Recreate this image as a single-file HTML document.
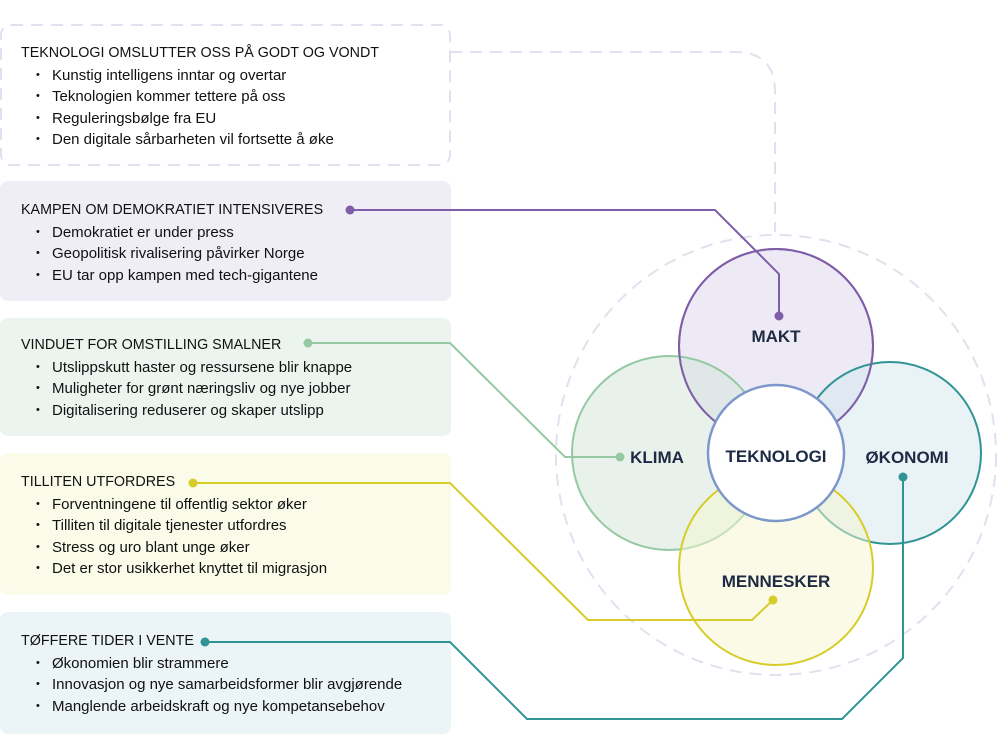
<!DOCTYPE html>
<html><head><meta charset="utf-8"><style>
body{margin:0;width:1000px;height:750px;background:#fff;position:relative;overflow:hidden;font-family:"Liberation Sans",sans-serif;color:#111;}
.box{position:absolute;left:0;width:451px;border-radius:10px;box-sizing:border-box;padding-left:21px;font-size:15px;line-height:21.5px}
.box h{display:block;font-size:14.3px;margin-bottom:0}
.box ul{margin:0;padding-left:31px}
.box li{list-style:none;position:relative}
.box li:before{content:"•";position:absolute;left:-16px;font-size:11px}
svg{position:absolute;left:0;top:0}
</style></head><body>
<svg width="1000" height="750">
<path d="M450 52 H735 Q775 52 775 92 V232" fill="none" stroke="#dfe2ee" stroke-width="2" stroke-dasharray="12 8"/>
<circle cx="776" cy="455" r="220" fill="none" stroke="#dfe2ee" stroke-width="2" stroke-dasharray="12 8"/>
<rect x="1" y="25" width="449" height="140" rx="10" fill="#fff" stroke="#dfe2ee" stroke-width="2" stroke-dasharray="12 8"/>
<rect x="0" y="181" width="451" height="120" rx="8" fill="#efedf6"/>
<rect x="0" y="318" width="451" height="118" rx="8" fill="#ebf4ee"/>
<rect x="0" y="453" width="451" height="142" rx="8" fill="#fafbe9"/>
<rect x="0" y="612" width="451" height="122" rx="8" fill="#ebf4f6"/>
<circle cx="776" cy="346" r="97" fill="rgba(225,220,238,0.6)" stroke="#7e5ea8" stroke-width="2"/>
<circle cx="669" cy="453" r="97" fill="rgba(210,230,215,0.5)" stroke="#95c9a4" stroke-width="2"/>
<circle cx="890" cy="453" r="91" fill="rgba(212,232,238,0.5)" stroke="#2f9494" stroke-width="2"/>
<circle cx="776" cy="568" r="97" fill="rgba(245,245,205,0.5)" stroke="#d7cc2a" stroke-width="2"/>
<circle cx="776" cy="346" r="97" fill="none" stroke="#7e5ea8" stroke-width="2"/>
<circle cx="776" cy="453" r="68" fill="#fff" stroke="#7d97cc" stroke-width="2.5"/>
<g fill="none" stroke-width="2">
<path d="M350 210 H715 L779 274 V316" stroke="#7e5ea8"/>
<path d="M308 343 H450 L565 457 H620" stroke="#95c9a4"/>
<path d="M193 483 H450 L588 620 H752 L773 600" stroke="#d7cc2a"/>
<path d="M205 642 H450 L527 719 H842 L903 658 V477" stroke="#2f9494"/>
</g>
<circle cx="350" cy="210" r="4.5" fill="#7e5ea8"/><circle cx="779" cy="316" r="4.5" fill="#7e5ea8"/>
<circle cx="308" cy="343" r="4.5" fill="#95c9a4"/><circle cx="620" cy="457" r="4.5" fill="#95c9a4"/>
<circle cx="193" cy="483" r="4.5" fill="#d7cc2a"/><circle cx="773" cy="600" r="4.5" fill="#d7cc2a"/>
<circle cx="205" cy="642" r="4.5" fill="#2f9494"/><circle cx="903" cy="477" r="4.5" fill="#2f9494"/>
<g font-family="Liberation Sans,sans-serif" font-weight="bold" font-size="17" fill="#1e2a44" text-anchor="middle">
<text x="776" y="342">MAKT</text>
<text x="657" y="463">KLIMA</text>
<text x="776" y="462">TEKNOLOGI</text>
<text x="907" y="463">ØKONOMI</text>
<text x="776" y="587">MENNESKER</text>
</g>
</svg>
<div class="box" style="top:43px"><h>TEKNOLOGI OMSLUTTER OSS PÅ GODT OG VONDT</h><ul><li>Kunstig intelligens inntar og overtar</li><li>Teknologien kommer tettere på oss</li><li>Reguleringsbølge fra EU</li><li>Den digitale sårbarheten vil fortsette å øke</li></ul></div>
<div class="box" style="top:200px"><h>KAMPEN OM DEMOKRATIET INTENSIVERES</h><ul><li>Demokratiet er under press</li><li>Geopolitisk rivalisering påvirker Norge</li><li>EU tar opp kampen med tech-gigantene</li></ul></div>
<div class="box" style="top:335px"><h>VINDUET FOR OMSTILLING SMALNER</h><ul><li>Utslippskutt haster og ressursene blir knappe</li><li>Muligheter for grønt næringsliv og nye jobber</li><li>Digitalisering reduserer og skaper utslipp</li></ul></div>
<div class="box" style="top:472px"><h>TILLITEN UTFORDRES</h><ul><li>Forventningene til offentlig sektor øker</li><li>Tilliten til digitale tjenester utfordres</li><li>Stress og uro blant unge øker</li><li>Det er stor usikkerhet knyttet til migrasjon</li></ul></div>
<div class="box" style="top:631px"><h>TØFFERE TIDER I VENTE</h><ul><li>Økonomien blir strammere</li><li>Innovasjon og nye samarbeidsformer blir avgjørende</li><li>Manglende arbeidskraft og nye kompetansebehov</li></ul></div>
</body></html>
